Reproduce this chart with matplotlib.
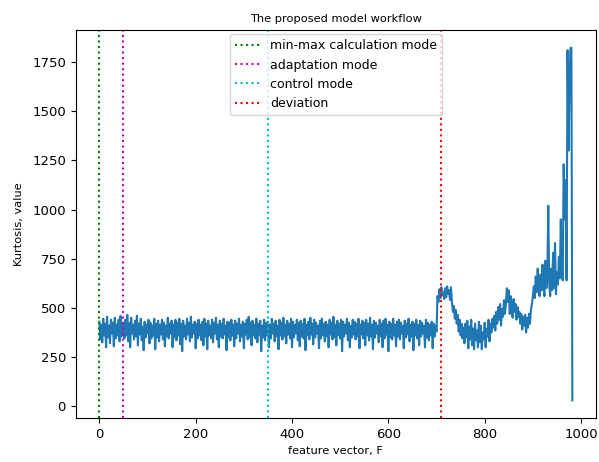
import matplotlib.pyplot as plt
import numpy as np

step = 2  # one reading every 2 feature-vector positions

seg_minmax = [430, 340, 415, 325, 445, 360, 420, 300, 455, 350, 410, 320, 440, 370, 425, 305, 450, 345, 415, 360,
              440, 330, 460, 355, 425]
seg_flat = [410, 345, 440, 360, 465, 330, 425, 300, 450, 370, 415, 340, 435, 355, 460, 310, 420, 365, 445, 335,
            405, 285, 430, 350, 415, 370, 440, 320, 425, 345, 410, 360, 445, 290, 420, 350, 435, 330, 415, 365,
            440, 340, 425, 305, 410, 355, 450, 345, 420, 370, 435, 300, 415, 350, 440, 335, 425, 360, 445, 315,
            420, 280, 435, 355, 410, 340, 445, 365, 425, 330, 455, 350, 415, 370, 430, 295, 420, 345, 440, 360,
            415, 335, 430, 310, 445, 355, 420, 290, 435, 360, 410, 345, 440, 325, 425, 370, 450, 340, 415, 300,
            435, 355, 420, 345, 445, 365, 410, 285, 430, 350, 425, 335, 440, 360, 415, 305, 435, 345, 420, 370,
            445, 330, 415, 355, 430, 295, 420, 365, 440, 340, 455, 350, 425, 310, 435, 360, 415, 345, 445, 325,
            420, 365, 435, 280, 410, 350, 440, 335, 425, 360, 430, 300, 415, 345, 445, 370, 420, 330, 435, 355,
            410, 290, 440, 360, 425, 340, 450, 355, 415, 320, 435, 365, 420, 345, 445, 300, 430, 350, 415, 370,
            440, 335, 425, 305, 435, 355, 420, 345, 445, 285, 415, 360, 430, 340, 450, 365, 420, 315, 440, 350,
            425, 370, 410, 295, 435, 345, 445, 360, 420, 330, 430, 355, 415, 300, 440, 365, 425, 340, 455, 350,
            415, 310, 435, 360, 420, 345, 440, 280, 430, 355, 415, 370, 445, 335, 425, 300, 410, 350, 440, 365,
            430, 340, 420, 355, 445, 295, 415, 365, 435, 345, 425, 310, 440, 360, 420, 335, 450, 355, 415, 290,
            435, 350, 425, 370, 410, 325, 440, 355, 420, 300, 435, 345, 445, 365, 415, 280, 430, 350, 420, 340,
            445, 360, 415, 305, 430, 355, 440, 340, 425, 370, 410, 295, 435, 350, 420, 365, 445, 330, 415, 355,
            430, 285, 420, 360, 440, 345, 415, 310, 435, 355, 425, 370, 410, 300, 440, 350, 425, 335, 415, 360,
            430, 295, 420, 355, 410, 380]
seg_jump = [560, 530, 595, 550, 605, 565, 580, 545, 600, 555, 610, 570, 590, 540, 605,
            530, 480, 510, 445, 490, 420, 465, 380, 440, 360, 420, 345, 400]
seg_dip = [320, 420, 350, 435, 295, 405, 340, 440, 310, 395, 290, 420, 335, 385, 300, 430, 325, 410, 290, 375,
           340, 425, 300, 395, 355, 440, 330, 420, 375, 445,
           400, 460, 385, 480, 420, 505, 440, 520, 410, 495, 455, 540, 470, 520, 600,
           530, 590, 470, 560, 500, 450, 545, 480, 520, 440, 505, 455, 480, 420, 470, 390, 455, 410, 465, 375,
           450, 400, 470, 420, 490, 520, 560]
seg_rise = [610, 550, 660, 580, 700, 600, 560, 670, 590, 720, 610, 560, 740, 600, 650,
            1020,
            620, 560, 700, 590, 780, 600, 830, 570, 680, 620, 760, 650, 950, 700, 640,
            1230, 950, 1150, 640, 1810, 1300, 1600, 1820, 1823,
            30]

kurtosis = seg_minmax + seg_flat + seg_jump + seg_dip + seg_rise
feature = np.arange(len(kurtosis)) * step

mode_pos = [0, 50, 350, 710]
mode_names = ['min-max calculation mode', 'adaptation mode', 'control mode', 'deviation']
mode_colors = ['g', 'm', 'c', 'r']

fig = plt.figure(figsize=(5.99, 4.62), dpi=100)
ax = fig.add_axes([0.1264, 0.0952, 0.8686, 0.8398])
ax.plot(feature, kurtosis, color='#1f77b4', linewidth=1.5)
for pos, name, col in zip(mode_pos, mode_names, mode_colors):
    ax.axvline(pos, color=col, linestyle=':', linewidth=1.5, label=name)

ax.set_yticks([0, 250, 500, 750, 1000, 1250, 1500, 1750])
ax.tick_params(labelsize=9.5)
ax.set_title('The proposed model workflow', fontsize=8.2)
ax.set_xlabel('feature vector, F', fontsize=8.2)
ax.set_ylabel('Kurtosis, value', fontsize=8.2, labelpad=6)
ax.legend(loc='upper center', fontsize=9, bbox_to_anchor=(0.5, 1.005))

plt.savefig('out.png', dpi=100)
